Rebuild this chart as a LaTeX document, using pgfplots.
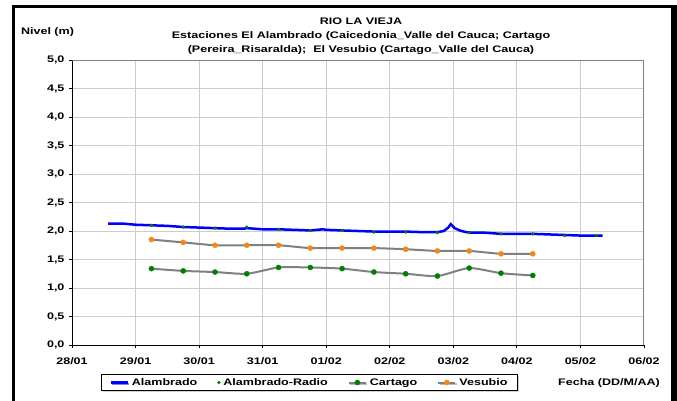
\documentclass[border=0pt]{standalone}
\usepackage{fontspec}
\setmainfont{Liberation Sans}[FakeStretch=1.32]
\usepackage{pgfplots}
\pgfplotsset{compat=1.18}
\usetikzlibrary{shadows}

\definecolor{alamblue}{RGB}{0,0,255}
\definecolor{radiogreen}{RGB}{0,128,0}
\definecolor{cartgreen}{RGB}{0,128,0}
\definecolor{vesorange}{RGB}{245,135,25}
\definecolor{linegray}{RGB}{128,128,128}
\definecolor{gridgray}{RGB}{205,205,205}

\begin{document}
\begin{tikzpicture}[x=1pt,y=1pt,font=\fontsize{9.5}{11}\selectfont\bfseries]
\useasboundingbox (0,0) rectangle (677,400);
\begin{axis}[
    at={(72pt,55pt)}, anchor=south west,
    scale only axis,
    width=572pt, height=285pt,
    xmin=0, xmax=9, ymin=0, ymax=5,
    axis lines*=left,
    axis line style={black, line width=1pt},
    xtick={0,...,9},
    xticklabels={28/01,29/01,30/01,31/01,01/02,02/02,03/02,04/02,05/02,06/02},
    ytick={0,0.5,...,5},
    yticklabel style={/pgf/number format/.cd, fixed, fixed zerofill, precision=1, use comma},
    /pgf/number format/assume math mode=true,
    tick align=outside, major tick length=3pt,
    tick style={black, line width=0.8pt},
    grid=major,
    major grid style={gridgray, line width=1pt},
    xticklabel shift=6pt,
    yticklabel shift=1pt,
    legend columns=4,
    legend style={at={(0.415,-0.1316)}, anchor=center, draw=black, line width=0.8pt,
        fill=white, drop shadow={shadow xshift=1.5pt, shadow yshift=-1.5pt, fill=gray!70},
        /tikz/every odd column/.append style={column sep=1pt},
        /tikz/every even column/.append style={column sep=18pt},
        inner xsep=8pt, inner ysep=2pt, font=\fontsize{9.5}{11}\selectfont\bfseries},
    legend cell align=left,
  ]
  \addplot[alamblue, line width=2.5pt, no marks] coordinates {
    (0.57,2.13) (0.80,2.13) (1.00,2.11) (1.25,2.10) (1.50,2.09) (1.75,2.07)
    (2.00,2.06) (2.25,2.05) (2.50,2.04) (2.70,2.04) (2.75,2.05) (3.00,2.03)
    (3.25,2.03) (3.50,2.02) (3.75,2.01) (3.95,2.03) (4.00,2.02) (4.25,2.01)
    (4.50,2.00) (4.75,1.99) (5.00,1.99) (5.25,1.99) (5.50,1.98) (5.75,1.98)
    (5.85,2.00) (5.92,2.06) (5.96,2.12) (6.02,2.05) (6.10,2.01) (6.20,1.98)
    (6.30,1.97) (6.50,1.97) (6.75,1.95) (7.00,1.95) (7.25,1.95) (7.50,1.94)
    (7.75,1.93) (8.00,1.92) (8.20,1.92) (8.35,1.92)
  };
  \addlegendentry{Alambrado}
  \addplot[only marks, mark=*, mark size=1.5pt,
      mark options={solid, draw=radiogreen, fill=radiogreen, line width=0.3pt}] coordinates {
    (1.25,2.10) (1.75,2.07) (2.25,2.05) (2.75,2.07) (3.25,2.03) (3.75,2.01)
    (4.25,2.01) (4.75,1.98) (5.25,1.98) (5.75,1.97) (6.25,1.97) (6.75,1.95)
    (7.25,1.95) (7.75,1.92) (8.25,1.92)
  };
  \addlegendentry{Alambrado-Radio}
  \addplot[linegray, line width=2pt, smooth, tension=0.4, mark=*, mark size=2.6pt,
      mark options={solid, draw=cartgreen, fill=cartgreen, line width=0.3pt}] coordinates {
    (1.25,1.34) (1.75,1.30) (2.25,1.28) (2.75,1.25) (3.25,1.36) (3.75,1.36)
    (4.25,1.34) (4.75,1.28) (5.25,1.25) (5.75,1.21) (6.25,1.35) (6.75,1.26)
    (7.25,1.22)
  };
  \addlegendentry{Cartago}
  \addplot[linegray, line width=2pt, smooth, tension=0.4, mark=*, mark size=2.6pt,
      mark options={solid, draw=vesorange, fill=vesorange, line width=0.3pt}] coordinates {
    (1.25,1.85) (1.75,1.80) (2.25,1.75) (2.75,1.75) (3.25,1.75) (3.75,1.70)
    (4.25,1.70) (4.75,1.70) (5.25,1.68) (5.75,1.65) (6.25,1.65) (6.75,1.60)
    (7.25,1.60)
  };
  \addlegendentry{Vesubio}
  \draw[gray, line width=1pt] (rel axis cs:0,1) -- (rel axis cs:1,1) -- (rel axis cs:1,0);
\end{axis}
% titles and labels
\node[align=center, inner sep=0pt, font=\fontsize{9.5}{14}\selectfont\bfseries] at (361,364)
  {RIO LA VIEJA\\
   Estaciones El Alambrado (Caicedonia\_Valle del Cauca; Cartago\\
   (Pereira\_Risaralda);\ \ El Vesubio (Cartago\_Valle del Cauca)};
\node[inner sep=0pt] at (47.5,368) {Nivel (m)};
\node[inner sep=0pt] at (609,17) {Fecha (DD/M/AA)};
% outer frame
\draw[line width=3pt] (13.5,-10) -- (13.5,393.5) -- (674,393.5);
\fill (671,-10) rectangle (680,395);
\end{tikzpicture}
\end{document}
